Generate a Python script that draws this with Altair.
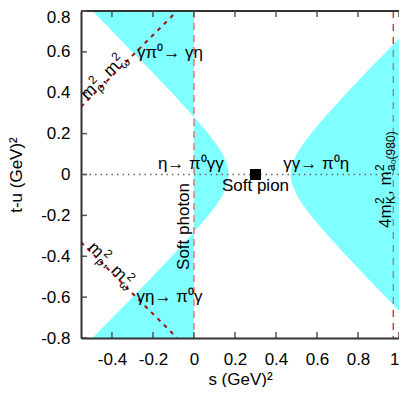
import altair as alt
import pandas as pd

FONT = "Liberation Sans"
W, H = 318, 327

# ---- axes ----
x_ticks = [-0.4, -0.2, 0, 0.2, 0.4, 0.6, 0.8, 1]
y_ticks = [-0.8, -0.6, -0.4, -0.2, 0, 0.2, 0.4, 0.6, 0.8]
x_domain = [-0.551, 1.0]
y_domain = [-0.8, 0.8]

# ---- boundary of the physical regions (t-u and the two branches in s) ----
bound_tu = [-0.8, -0.7, -0.6, -0.5, -0.4, -0.35, -0.3, -0.25, -0.2, -0.15, -0.1, -0.05, -0.025, 0,
            0.025, 0.05, 0.1, 0.15, 0.2, 0.25, 0.3, 0.35, 0.4, 0.5, 0.6, 0.7, 0.8]
left_branch_s = [-0.495, -0.397, -0.300, -0.203, -0.108, -0.062, -0.016, 0.028, 0.070, 0.108, 0.140, 0.161, 0.166, 0.168,
                 0.166, 0.161, 0.140, 0.108, 0.070, 0.028, -0.016, -0.062, -0.108, -0.203, -0.300, -0.397, -0.495]
right_branch_s = [1.132, 1.034, 0.937, 0.840, 0.746, 0.700, 0.655, 0.611, 0.570, 0.533, 0.501, 0.480, 0.474, 0.472,
                  0.474, 0.480, 0.501, 0.533, 0.570, 0.611, 0.655, 0.700, 0.746, 0.840, 0.937, 1.034, 1.132]

soft_photon_s = [0.0]
threshold_s = [0.972]
zero_tu = [0.0]
top_tu = [0.8]

# m_rho^2, m_omega^2 lines
diag_s = [-0.551, -0.082, -0.551, -0.082]
diag_tu = [0.331, 0.8, -0.331, -0.8]
diag_id = ["upper", "upper", "lower", "lower"]

soft_pion_s = [0.3]
soft_pion_tu = [0.0]

# text labels: (text, s, t-u, dx, dy, size, angle, align)
labels = [
    ("γπ⁰→ γη", -0.278, 0.57, 0, 0, 17, 0, "left"),
    ("η→ π⁰γγ", -0.176, 0.028, 0, 0, 17, 0, "left"),
    ("γγ→ π⁰η", 0.436, 0.028, 0, 0, 17, 0, "left"),
    ("Soft pion", 0.3, -0.081, 0, 0, 17, 0, "center"),
    ("γη→ π⁰γ", -0.28, -0.624, 0, 0, 17, 0, "left"),
    ("Soft photon", -0.022, -0.467, 0, 0, 17, 270, "left"),
    # upper m_rho^2, m_omega^2
    ("m", -0.52, 0.362, 0, 0, 17, 315, "left"),
    ("2", -0.52, 0.362, 15, -7, 12, 315, "left"),
    ("ρ", -0.52, 0.362, 15, 4, 12, 315, "left"),
    (", m", -0.52, 0.362, 23, 0, 17, 315, "left"),
    ("2", -0.52, 0.362, 48, -7, 12, 315, "left"),
    ("ω", -0.52, 0.362, 48, 4, 12, 315, "left"),
    # lower m_rho^2, m_omega^2
    ("m", -0.52, -0.362, 0, 0, 17, 45, "left"),
    ("2", -0.52, -0.362, 15, -7, 12, 45, "left"),
    ("ρ", -0.52, -0.362, 15, 4, 12, 45, "left"),
    (", m", -0.52, -0.362, 23, 0, 17, 45, "left"),
    ("2", -0.52, -0.362, 48, -7, 12, 45, "left"),
    ("ω", -0.52, -0.362, 48, 4, 12, 45, "left"),
    # 4 m_K^2, m_a0(980)^2
    ("4m", 0.961, -0.262, 0, 0, 17, 270, "left"),
    ("2", 0.961, -0.262, 24, -7, 12, 270, "left"),
    ("K", 0.961, -0.262, 24, 4, 12, 270, "left"),
    (", m", 0.961, -0.262, 33, 0, 17, 270, "left"),
    ("2", 0.961, -0.262, 57, -7, 12, 270, "left"),
    ("a₀(980)", 0.961, -0.262, 57, 4, 12, 270, "left"),
]

# ---- scales / axes ----
xs = alt.Scale(domain=x_domain, nice=False, zero=False)
ys = alt.Scale(domain=y_domain, nice=False, zero=False)
lab = "(datum.value < 0 ? '-' : '') + format(abs(datum.value), '~g')"
xaxis = alt.Axis(values=x_ticks, ticks=False, grid=False, labelExpr=lab, labelFontSize=17, labelFont=FONT,
                 labelColor="black", labelPadding=13, domainColor="#333333", domainWidth=2,
                 labelAlign={"condition": {"test": "datum.value >= 1", "value": "right"}, "value": "center"},
                 title="s (GeV)²", titleFont=FONT, titleFontSize=17, titleFontWeight="normal",
                 titleColor="black", titleBaseline="alphabetic", titleY=46, zindex=1)
yaxis = alt.Axis(values=y_ticks, ticks=False, grid=False, labelExpr=lab, labelFontSize=17, labelFont=FONT,
                 labelColor="black", labelPadding=11, domainColor="#333333", domainWidth=2,
                 labelOffset={"condition": {"test": "datum.value >= 0.8", "value": 6}, "value": 0},
                 title="t-u (GeV)²", titleFont=FONT, titleFontSize=17, titleFontWeight="normal",
                 titleColor="black", titleAngle=270, titleX=-60, titleBaseline="alphabetic",
                 titleAlign="center", zindex=1)


def X(f):
    return alt.X(f, type="quantitative", scale=xs, axis=xaxis)


def Y(f):
    return alt.Y(f, type="quantitative", scale=ys, axis=yaxis)


n = len(bound_tu)
region = pd.DataFrame({"tu": bound_tu, "left": left_branch_s, "right": right_branch_s,
                       "photon": soft_photon_s * n, "edge": [x_domain[1]] * n})

thr = alt.Chart(pd.DataFrame({"s": threshold_s})).mark_rule(
    color="#ff0000", strokeWidth=1.2, strokeDash=[7, 6]).encode(x=X("s"))

left_area = alt.Chart(region).mark_area(orient="horizontal", color="#00ffff", opacity=0.5, clip=True).encode(
    y=Y("tu"), x=X("left"), x2=alt.X2("photon"))
right_area = alt.Chart(region).mark_area(orient="horizontal", color="#00ffff", opacity=0.5, clip=True).encode(
    y=Y("tu"), x=X("right"), x2=alt.X2("edge"))

zero_line = alt.Chart(pd.DataFrame({"tu": zero_tu})).mark_rule(
    color="#666666", strokeWidth=1.5, strokeDash=[1.5, 4]).encode(y=Y("tu"))

photon_line = alt.Chart(pd.DataFrame({"s": soft_photon_s})).mark_rule(
    color="#f06060", strokeWidth=1.3, strokeDash=[7, 5]).encode(x=X("s"))

diag = alt.Chart(pd.DataFrame({"s": diag_s, "tu": diag_tu, "id": diag_id})).mark_line(
    color="#a01010", strokeWidth=2, strokeDash=[4, 5], clip=True).encode(
    x=X("s"), y=Y("tu"), detail="id:N")

square = alt.Chart(pd.DataFrame({"s": soft_pion_s, "tu": soft_pion_tu})).mark_square(
    size=121, color="black", opacity=1, filled=True).encode(x=X("s"), y=Y("tu"))

top_line = alt.Chart(pd.DataFrame({"tu": top_tu})).mark_rule(
    color="#333333", strokeWidth=2).encode(y=Y("tu"))

tick_style = dict(color="#555555", strokeWidth=1.5)
xt = pd.DataFrame({"v": x_ticks})
yt = pd.DataFrame({"v": y_ticks})
bottom_ticks = alt.Chart(xt).mark_rule(**tick_style).encode(x=X("v"), y=alt.value(H), y2=alt.value(H - 6))
top_ticks = alt.Chart(xt).mark_rule(**tick_style).encode(x=X("v"), y=alt.value(0), y2=alt.value(6))
left_ticks = alt.Chart(yt).mark_rule(**tick_style).encode(y=Y("v"), x=alt.value(0), x2=alt.value(6))

texts = []
for (t, s, tu, dx, dy, size, ang, al) in labels:
    df = pd.DataFrame({"s": [s], "tu": [tu], "label": [t]})
    texts.append(alt.Chart(df).mark_text(dx=dx, dy=dy, fontSize=size, angle=ang, align=al,
                                         baseline="alphabetic", font=FONT, color="black").encode(
        x=X("s"), y=Y("tu"), text="label:N"))

chart = alt.layer(thr, left_area, right_area, zero_line, photon_line, diag, square, top_line,
                  bottom_ticks, top_ticks, left_ticks, *texts).properties(
    width=W, height=H,
    padding={"left": 73, "top": 3, "right": 0, "bottom": 49},
    autosize=alt.AutoSizeParams(type="none"),
    background="white",
).configure_view(strokeWidth=0)

chart.save("out.html", embed_options={"renderer": "svg", "actions": False})
